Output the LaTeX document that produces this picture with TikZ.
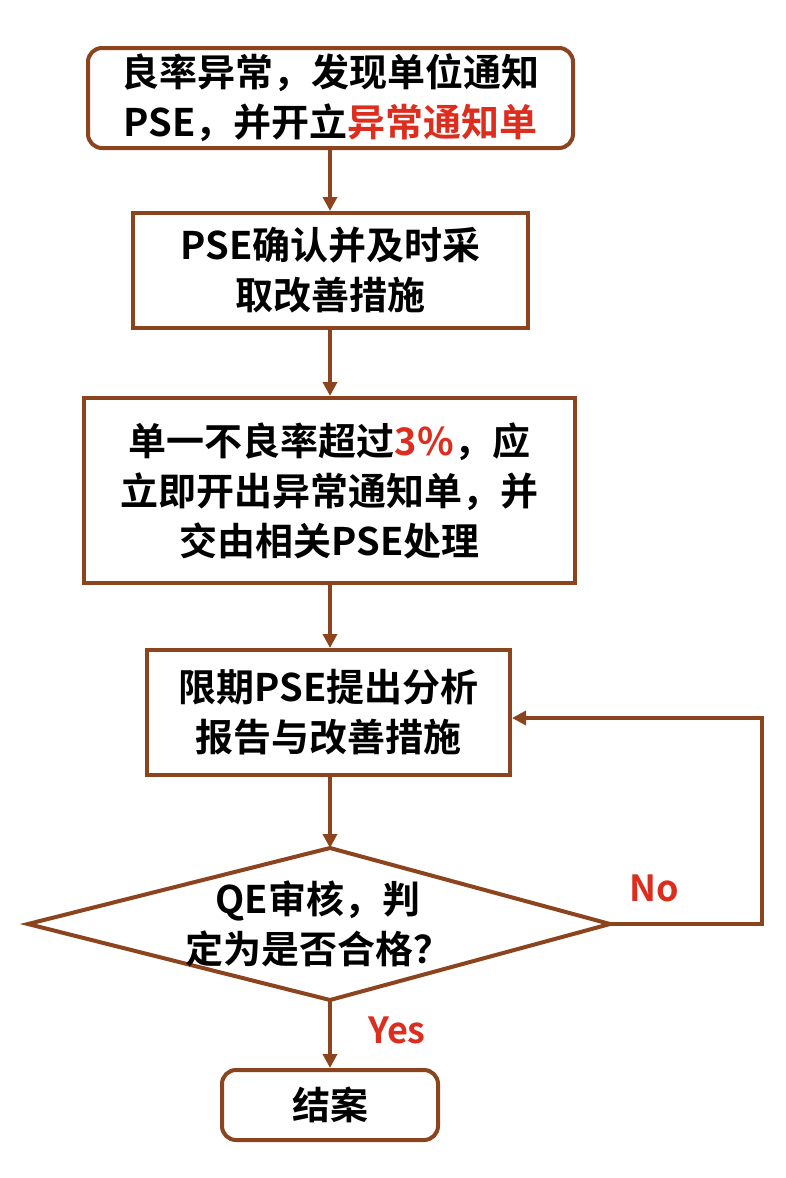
\documentclass[tikz,border=0pt]{standalone}
\usepackage{fontspec}
\setmainfont{Noto Sans CJK SC Bold}
\usetikzlibrary{arrows.meta}
\definecolor{brn}{RGB}{140,68,30}
\definecolor{rd}{RGB}{220,45,30}
\begin{document}
\begin{tikzpicture}[x=1pt,y=-1pt,
  box/.style={draw=brn,line width=4pt,align=center,font=\fontsize{38}{50}\selectfont,inner sep=0pt},
  conn/.style={draw=brn,line width=4pt,-{Triangle[length=14pt,width=14pt]}},
  lab/.style={text=rd,font=\fontsize{36}{40}\selectfont}]
\useasboundingbox[fill=white] (0,0) rectangle (786,1178);
\node[box,rounded corners=14pt,minimum width=485pt,minimum height=100pt] (b1) at (330.5,98) {良率异常，发现单位通知\\PSE，并开立\textcolor{rd}{异常通知单}};
\node[box,minimum width=395pt,minimum height=115pt] (b2) at (330.5,270.5) {PSE确认并及时采\\取改善措施};
\node[box,minimum width=491pt,minimum height=185pt] (b3) at (329.5,490.5) {单一不良率超过\textcolor{rd}{3\%}，应\\立即开出异常通知单，并\\交由相关PSE处理};
\node[box,minimum width=363pt,minimum height=125pt] (b4) at (328.5,712.5) {限期PSE提出分析\\报告与改善措施};
\coordinate (dt) at (330,848);
\coordinate (db) at (330,1000);
\coordinate (dl) at (28,924);
\coordinate (dr) at (610,924);
\draw[brn,line width=4pt,line join=miter] (dt)--(dr)--(db)--(dl)--cycle;
\node[align=center,font=\fontsize{38}{50}\selectfont] (dtx) at (318,924) {QE审核，判\\定为是否合格？};
\node[box,rounded corners=14pt,minimum width=216pt,minimum height=70pt] (b5) at (330,1105) {结案};
\coordinate (rc) at (762,924);
\coordinate (ru) at (762,718);
\draw[conn] (b1.south -| dt) -- (b2.north -| dt);
\draw[conn] (b2.south -| dt) -- (b3.north -| dt);
\draw[conn] (b3.south -| dt) -- (b4.north -| dt);
\draw[conn] (b4.south -| dt) -- (dt);
\draw[conn] (db) -- (b5.north);
\draw[conn] (dr) -- (rc) -- (ru) -- (ru -| b4.east);
\node[lab] (no) at (654,888) {No};
\node[lab] (yes) at (397,1030) {Yes};
\end{tikzpicture}
\end{document}
